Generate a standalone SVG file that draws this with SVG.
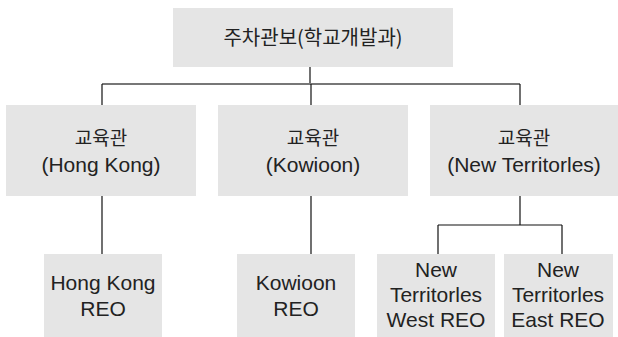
<svg xmlns="http://www.w3.org/2000/svg" width="618" height="337" viewBox="0 0 618 337">
<style>
.box{fill:#e5e5e5;stroke:none}
.ko{font-family:"Noto Sans CJK KR","Liberation Sans",sans-serif;fill:#222;text-anchor:middle}
.en{font-family:"Liberation Sans","Noto Sans CJK KR",sans-serif;font-size:21px;fill:#222;text-anchor:middle}
.ln{stroke:#111;stroke-width:1.2;fill:none}
.gl{stroke:#777;stroke-width:2;fill:none}
</style>
<rect width="618" height="337" fill="#fff"/>
<g id="connectors">
<line class="ln" x1="310" y1="67" x2="310" y2="84"/>
<line class="gl" x1="102" y1="84" x2="520" y2="84"/>
<line class="ln" x1="102" y1="84" x2="102" y2="105"/>
<line class="ln" x1="311" y1="84" x2="311" y2="105"/>
<line class="ln" x1="520" y1="84" x2="520" y2="105"/>
<line class="ln" x1="102" y1="196" x2="102" y2="254"/>
<line class="ln" x1="311" y1="196" x2="311" y2="254"/>
<line class="ln" x1="520" y1="196" x2="520" y2="225"/>
<line class="ln" x1="438" y1="225" x2="562" y2="225"/>
<line class="ln" x1="438" y1="225" x2="438" y2="254"/>
<line class="ln" x1="562" y1="225" x2="562" y2="254"/>
</g>
<g id="top">
<rect class="box" x="173" y="8" width="280" height="59"/>
<text class="ko" x="313" y="45" font-size="20">주차관보(학교개발과)</text>
</g>
<g id="hk">
<rect class="box" x="6" y="105" width="190" height="91"/>
<text class="ko" x="101" y="145" font-size="19">교육관</text>
<text class="en" x="101" y="172">(Hong Kong)</text>
</g>
<g id="kowloon">
<rect class="box" x="218" y="105" width="190" height="91"/>
<text class="ko" x="313" y="145" font-size="19">교육관</text>
<text class="en" x="313" y="172">(Kowioon)</text>
</g>
<g id="nt">
<rect class="box" x="430" y="105" width="188" height="91"/>
<text class="ko" x="524" y="145" font-size="19">교육관</text>
<text class="en" x="524" y="172">(New Territorles)</text>
</g>
<g id="hkreo">
<rect class="box" x="44" y="254" width="118" height="83"/>
<text class="en" x="103" y="290">Hong Kong</text>
<text class="en" x="103" y="316">REO</text>
</g>
<g id="kreo">
<rect class="box" x="237" y="254" width="118" height="83"/>
<text class="en" x="296" y="290">Kowioon</text>
<text class="en" x="296" y="316">REO</text>
</g>
<g id="ntw">
<rect class="box" x="377" y="254" width="118" height="83"/>
<text class="en" x="436" y="277">New</text>
<text class="en" x="436" y="302">Territorles</text>
<text class="en" x="436" y="327">West REO</text>
</g>
<g id="nte">
<rect class="box" x="504" y="254" width="109" height="83"/>
<text class="en" x="558" y="277">New</text>
<text class="en" x="558" y="302">Territorles</text>
<text class="en" x="558" y="327">East REO</text>
</g>
</svg>
